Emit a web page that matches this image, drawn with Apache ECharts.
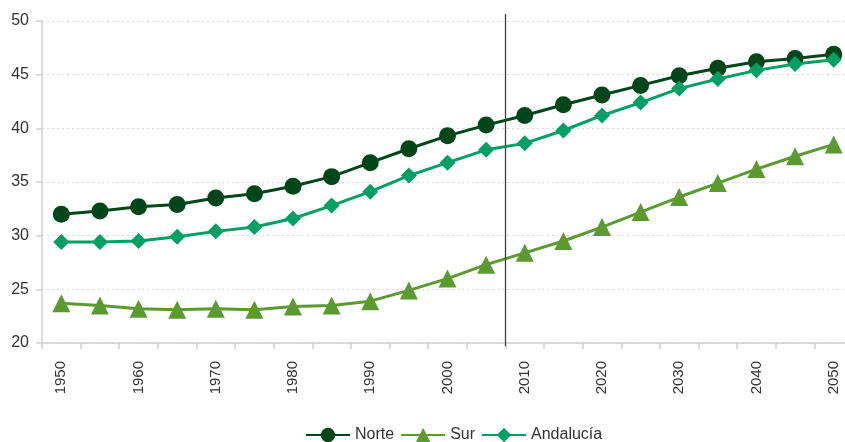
<!DOCTYPE html>
<html>
<head>
<meta charset="utf-8">
<script src="https://cdn.jsdelivr.net/npm/echarts@6/dist/echarts.min.js"></script>
<style>
  html, body { margin: 0; padding: 0; background: #fff; }
  #chart { width: 845px; height: 442px; }
</style>
</head>
<body>
<div id="chart"></div>
<script>
// Edad media de la población (años), 1950-2050
const years = ['1950','1955','1960','1965','1970','1975','1980','1985','1990','1995','2000',
               '2005','2010','2015','2020','2025','2030','2035','2040','2045','2050'];
const norte = [32.0, 32.3, 32.7, 32.9, 33.5, 33.9, 34.6, 35.5, 36.8, 38.1, 39.3,
               40.3, 41.2, 42.2, 43.1, 44.0, 44.9, 45.6, 46.2, 46.5, 46.9];
const sur = [23.7, 23.5, 23.2, 23.1, 23.2, 23.1, 23.4, 23.5, 23.9, 24.9, 26.0,
             27.3, 28.4, 29.5, 30.8, 32.2, 33.6, 34.9, 36.2, 37.4, 38.5];
const andalucia = [29.4, 29.4, 29.5, 29.9, 30.4, 30.8, 31.6, 32.8, 34.1, 35.6, 36.8,
                   38.0, 38.6, 39.8, 41.2, 42.4, 43.7, 44.6, 45.4, 46.0, 46.4];
// Divide los datos observados de las proyecciones (entre 2005 y 2010)
const splitAfter = '2005';

const FONT = '"Liberation Sans", Arial, sans-serif';
const TXT = '#333333';

const chart = echarts.init(document.getElementById('chart'), null, { renderer: 'canvas' });

function lineSeries(name, data, color, symbol, size) {
  return {
    name, type: 'line', data,
    symbol, symbolSize: size,
    showAllSymbol: true,
    lineStyle: { color, width: 3 },
    itemStyle: { color },
    emphasis: { disabled: true },
    animation: false
  };
}

chart.setOption({
  animation: false,
  textStyle: { fontFamily: FONT },
  grid: { left: 42, top: 21, width: 811, height: 322, containLabel: false, outerBoundsMode: 'none' },
  legend: {
    left: 300,
    top: 422,
    itemWidth: 44,
    itemHeight: 18,
    itemGap: 6,
    textStyle: { fontFamily: FONT, fontSize: 16, color: TXT },
    data: ['Norte', 'Sur', 'Andalucía']
  },
  xAxis: {
    type: 'category',
    data: years,
    boundaryGap: true,
    axisLine: { lineStyle: { color: '#d0d0d0', width: 1.5 } },
    axisTick: { show: true, interval: 0, length: 6, lineStyle: { color: '#d0d0d0', width: 1.5 } },
    axisLabel: {
      interval: 1, rotate: 90, margin: 18,
      fontFamily: FONT, fontSize: 15, color: TXT
    },
    splitLine: { show: false }
  },
  yAxis: {
    type: 'value',
    min: 20, max: 50, interval: 5,
    axisLine: { show: true, lineStyle: { color: '#d0d0d0', width: 1.5 } },
    axisTick: { show: true, length: 6, lineStyle: { color: '#d0d0d0', width: 1.5 } },
    axisLabel: { margin: 13, fontFamily: FONT, fontSize: 16, color: TXT },
    splitLine: { show: true, lineStyle: { color: '#d8d8d8', type: [2, 3], width: 1 } }
  },
  series: [
    lineSeries('Norte', norte, '#00461a', 'circle', 17),
    lineSeries('Sur', sur, '#5a9a30', 'triangle', 18),
    lineSeries('Andalucía', andalucia, '#00a064', 'diamond', 16)
  ]
});

// Vertical divider placed between two categories via the axis scale
function drawDivider() {
  const i = years.indexOf(splitAfter);
  const a = chart.convertToPixel({ gridIndex: 0 }, [i, 50]);
  const b = chart.convertToPixel({ gridIndex: 0 }, [i + 1, 20]);
  const x = Math.round((a[0] + b[0]) / 2) + 0.5;
  chart.setOption({
    graphic: [{
      type: 'line', z: 10, silent: true,
      shape: { x1: x, y1: a[1] - 7, x2: x, y2: b[1] + 3 },
      style: { stroke: '#404040', lineWidth: 1.3 }
    }]
  });
}
drawDivider();
</script>
</body>
</html>
